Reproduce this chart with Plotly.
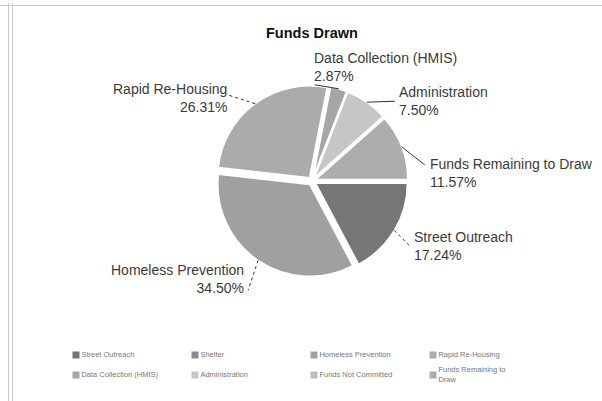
import math
import plotly.graph_objects as go

# ---- data -----------------------------------------------------------------
categories = [
    "Street Outreach",
    "Shelter",
    "Homeless Prevention",
    "Rapid Re-Housing",
    "Data Collection (HMIS)",
    "Administration",
    "Funds Not Committed",
    "Funds Remaining to Draw",
]
shares = [17.24, 0.0, 34.50, 26.31, 2.87, 7.50, 0.0, 11.57]
legend_names = [
    "Street Outreach",
    "Shelter",
    "Homeless Prevention",
    "Rapid Re-Housing",
    "Data Collection (HMIS)",
    "Administration",
    "Funds Not Committed",
    "Funds Remaining to<br>Draw",
]
title_text = "Funds Drawn"

# ---- styling --------------------------------------------------------------
slice_colors = ["#767676", "#8a8a8a", "#a0a0a0", "#ababab",
                "#a6a6a6", "#c6c6c6", "#bcbcbc", "#acacac"]
FONT = "Liberation Sans, Arial, sans-serif"
W, H = 602, 401
CX, CY = 312, 181          # pie centre (px)
R_OUT = 96                 # outer reach of pulled slices (px)
PULL = 0.045
START = 90                 # first slice starts at 3 o'clock

# label placement: leader end offset from slice edge, text offset from leader end
label_layout = {
    "Rapid Re-Housing":        dict(lead=(-28, -9), text=(1, 3),  xa="right", ya="middle", dash="dot"),
    "Homeless Prevention":     dict(lead=(-10, 30), text=(-3, -11), xa="right", ya="middle", dash="dot"),
    "Street Outreach":         dict(lead=(16, 16), text=(3, 0),   xa="left",  ya="middle", dash="dot"),
    "Funds Remaining to Draw": dict(lead=(23, 18), text=(4, 8),   xa="left",  ya="middle", dash="solid"),
    "Administration":          dict(lead=(28, -1), text=(3, 0),   xa="left",  ya="middle", dash="solid"),
    "Data Collection (HMIS)":  dict(lead=(-24, -4), text=(-2, 0), xa="left",  ya="bottom", dash="solid"),
}


def px(x, y):
    """pixel position -> paper coordinates"""
    return x / W, 1 - y / H


fig = go.Figure()

x0, y1 = px(CX - R_OUT, CY - R_OUT)
x1, y0 = px(CX + R_OUT, CY + R_OUT)
fig.add_trace(go.Pie(
    labels=categories,
    values=shares,
    sort=False,
    direction="clockwise",
    rotation=START,
    pull=[PULL] * len(categories),
    marker=dict(colors=slice_colors, line=dict(color="white", width=1.5)),
    textinfo="none",
    hoverinfo="label+percent",
    showlegend=False,
    domain=dict(x=[x0, x1], y=[y0, y1]),
))

# outside labels with leader lines, anchored at each slice's mid-angle
total = sum(shares)
shapes = []
annotations = []
angle = START
for name, v in zip(categories, shares):
    span = 360 * v / total
    mid = math.radians(angle + span / 2)
    angle += span
    if v <= 0:
        continue
    ex = CX + R_OUT * math.sin(mid)
    ey = CY - R_OUT * math.cos(mid)
    cfg = label_layout[name]
    lx, ly = ex + cfg["lead"][0], ey + cfg["lead"][1]
    ax0, ay0 = px(ex, ey)
    ax1, ay1 = px(lx, ly)
    shapes.append(dict(type="line", xref="paper", yref="paper",
                       x0=ax0, y0=ay0, x1=ax1, y1=ay1,
                       line=dict(color="#333333", width=1, dash=cfg["dash"])))
    tx, ty = px(lx + cfg["text"][0], ly + cfg["text"][1])
    annotations.append(dict(
        x=tx, y=ty, xref="paper", yref="paper", showarrow=False,
        text=f"{name}<br>{v:.2f}%", xanchor=cfg["xa"], yanchor=cfg["ya"],
        align=cfg["xa"], borderpad=0,
        font=dict(family=FONT, size=14, color="#3a3a3a"),
    ))

# legend: two rows of four entries
LEG_X0, LEG_DX = 76, 119
LEG_Y0, LEG_DY = 355, 20
leg_x = [LEG_X0 + LEG_DX * (i % 4) for i in range(len(categories))]
leg_y = [LEG_Y0 + LEG_DY * (i // 4) for i in range(len(categories))]
fig.add_trace(go.Scatter(
    x=leg_x, y=leg_y, mode="markers+text",
    marker=dict(symbol="square", size=7, color=slice_colors),
    text=legend_names, textposition="middle right",
    textfont=dict(family=FONT, size=7.5, color="#777777"),
    cliponaxis=False, hoverinfo="skip", showlegend=False,
))

# panel frame
frame = dict(color="#c9c9c9", width=1)
shapes += [
    dict(type="line", xref="paper", yref="paper", x0=0, x1=1,
         y0=px(0, 5.5)[1], y1=px(0, 5.5)[1], line=frame),
    dict(type="line", xref="paper", yref="paper", x0=px(8.5, 0)[0], x1=px(8.5, 0)[0],
         y0=px(0, 3)[1], y1=0, line=frame),
    dict(type="line", xref="paper", yref="paper", x0=px(12.5, 0)[0], x1=px(12.5, 0)[0],
         y0=px(0, 3)[1], y1=0, line=frame),
]

tx, ty = px(312, 33)
annotations.append(dict(x=tx, y=ty, xref="paper", yref="paper", showarrow=False,
                        text=f"<b>{title_text}</b>", xanchor="center", yanchor="middle",
                        font=dict(family=FONT, size=14.5, color="#111111")))

fig.update_layout(
    width=W, height=H,
    margin=dict(l=0, r=0, t=0, b=0),
    paper_bgcolor="white", plot_bgcolor="white",
    showlegend=False,
    xaxis=dict(range=[0, W], visible=False, fixedrange=True),
    yaxis=dict(range=[H, 0], visible=False, fixedrange=True),
    shapes=shapes,
    annotations=annotations,
)

fig.write_html("out.html")
